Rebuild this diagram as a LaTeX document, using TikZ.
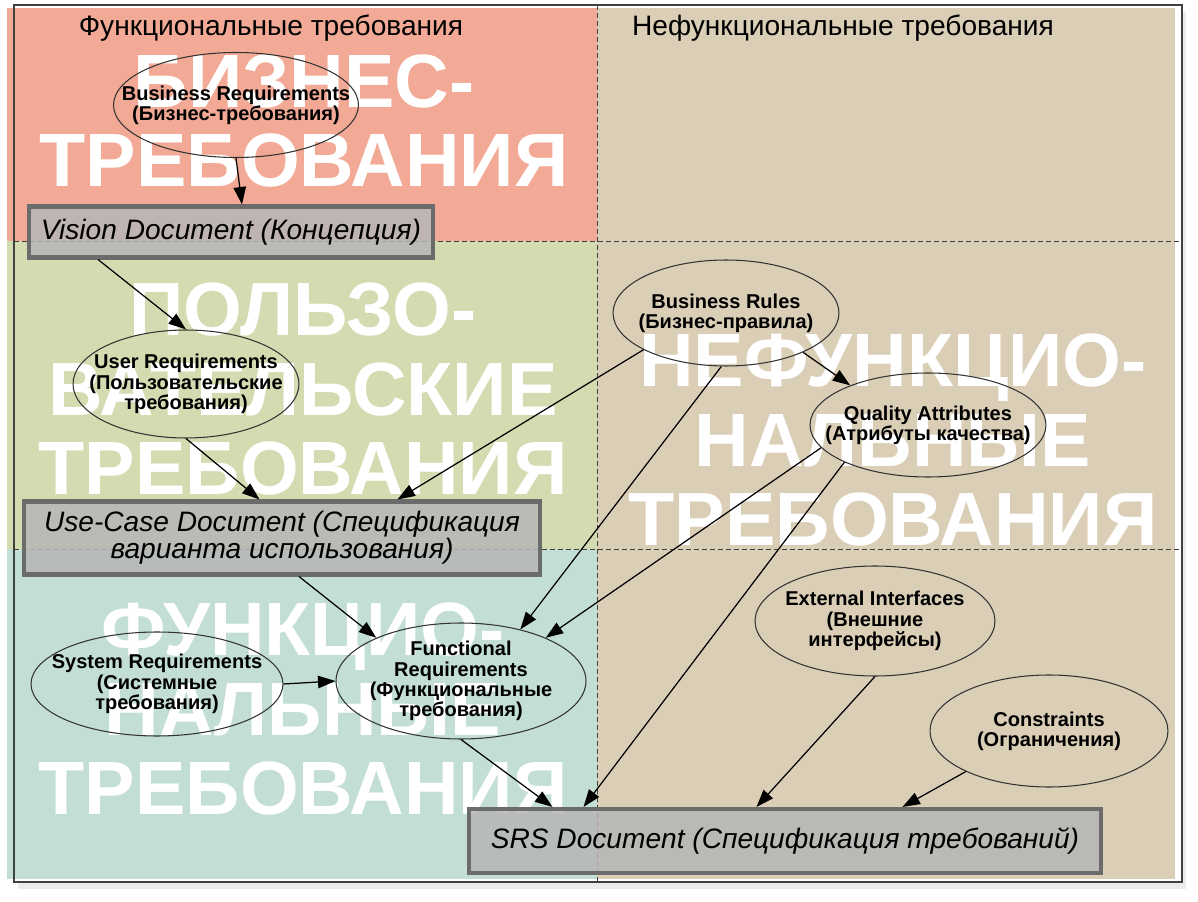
\documentclass[tikz,border=0pt]{standalone}
\usepackage{fontspec}
\setmainfont{Liberation Sans}
\usetikzlibrary{arrows.meta,shapes.geometric,shadows}

\definecolor{bizbg}{HTML}{F2AA96}
\definecolor{userbg}{HTML}{D3DCB1}
\definecolor{funcbg}{HTML}{C3DFD3}
\definecolor{nfbg}{HTML}{DACEB7}
\definecolor{docgray}{HTML}{B6B6B6}
\definecolor{docedge}{HTML}{6B6B6B}

\begin{document}
\begin{tikzpicture}[
    x=0.02cm, y=-0.02cm,
    req/.style={
        draw=black!80,
        ellipse,
        line width=0.6pt,
        inner xsep=-8mm,
        inner ysep=-3mm,
        align=center,
        font=\bfseries\fontsize{11.4}{11.5}\selectfont
    },
    doc/.style={
        draw=docedge,
        fill=docgray,
        fill opacity=0.85,
        text opacity=1,
        line width=2.3pt,
        align=center,
        font=\itshape\fontsize{16}{15.5}\selectfont
    },
    big/.style={
        text=white,
        align=center,
        inner sep=0pt,
        font=\bfseries\fontsize{43}{45}\selectfont
    },
    head/.style={font=\fontsize{16}{19}\selectfont},
    sep/.style={black!75, dash pattern=on 0.1cm off 0.06cm, line width=0.5pt},
    arr/.style={-{Triangle[length=3.5mm, width=2.5mm]}, line width=0.7pt}
]
    \useasboundingbox (0,0) rectangle (1198,902);

    %% Фон и рамка
    \path[fill=white, drop shadow={shadow xshift=2pt, shadow yshift=-4pt, opacity=0.15}] (14,5) rectangle (1182,882);
    \fill[bizbg] (7,8) rectangle (597,241);
    \fill[userbg] (7,241) rectangle (597,549);
    \fill[funcbg] (7,549) rectangle (597,879);
    \fill[nfbg] (597,8) rectangle (1175,879);
    \draw[black!75, line width=1.1pt] (14,5) rectangle (1182,882);
    \draw[sep] (597,5) -- (597,882);
    \draw[sep] (14,241) -- (1182,241);
    \draw[sep] (14,549) -- (1182,549);

    %% Крупные подписи уровней
    \node[big] (bizlabel) at (304,121) {БИЗНЕС-\\ТРЕБОВАНИЯ};
    \node[big] (userlabel) at (303,389) {ПОЛЬЗО-\\ВАТЕЛЬСКИЕ\\ТРЕБОВАНИЯ};
    \node[big] (nflabel) at (893,440) {НЕФУНКЦИО-\\НАЛЬНЫЕ\\ТРЕБОВАНИЯ};
    \node[big] (funclabel) at (303,709) {ФУНКЦИО-\\НАЛЬНЫЕ\\ТРЕБОВАНИЯ};

    %% Заголовки колонок
    \node[head] (fhead) at (271,28) {Функциональные требования};
    \node[head] (nfhead) at (843,28) {Нефункциональные требования};

    %% Функциональные требования
    \node[req, minimum width=4.9cm, minimum height=2.1cm] (bizreq) at (236,105) {Business Requirements\\(Бизнес-требования)};
    \node[doc, minimum width=8.08cm, minimum height=1.02cm] (vision) at (231,232) {Vision Document (Концепция)};
    \node[req, minimum width=4.52cm, minimum height=2.16cm] (userreq) at (186,384) {User Requirements\\(Пользовательские\\требования)};
    \node[doc, minimum width=10.34cm, minimum height=1.46cm] (usecase) at (282,538) {Use-Case Document (Спецификация\\варианта использования)};
    \node[req, minimum width=5.04cm, minimum height=2.08cm] (sysreq) at (157,684) {System Requirements\\(Системные\\требования)};
    \node[req, minimum width=5cm, minimum height=2.32cm] (funcreq) at (461,681) {Functional\\Requirements\\(Функциональные\\требования)};
    \node[doc, minimum width=12.66cm, minimum height=1.28cm] (srs) at (785,841) {SRS Document (Спецификация требований)};

    %% Нефункциональные требования
    \node[req, minimum width=4.52cm, minimum height=2.12cm] (busrules) at (726,313) {Business Rules\\(Бизнес-правила)};
    \node[req, minimum width=4.72cm, minimum height=2.08cm] (quality) at (928,425) {Quality Attributes\\(Атрибуты качества)};
    \node[req, minimum width=4.8cm, minimum height=2.2cm] (extif) at (875,621) {External Interfaces\\(Внешние\\интерфейсы)};
    \node[req, minimum width=4.76cm, minimum height=2.24cm] (constr) at (1049,731) {Constraints\\(Ограничения)};

    %% Стрелки
    \draw[arr] (bizreq.south) -- ([xshift=0.22cm]vision.north);
    \draw[arr] ([xshift=1.42cm]vision.south west) -- (userreq.north);
    \draw[arr] (userreq.south) -- ([xshift=-0.45cm]usecase.north);
    \draw[arr] (busrules.204) -- ([xshift=2.31cm]usecase.north);
    \draw[arr] ([xshift=0.34cm]usecase.south) -- (funcreq.153);
    \draw[arr] (sysreq.east) -- (funcreq.west);
    \draw[arr] (busrules.265) -- (funcreq.41);
    \draw[arr] (quality.192) -- (funcreq.27);
    \draw[arr] (busrules.333) -- (quality.153);
    \draw[arr] (quality.204) -- ([xshift=2.34cm]srs.north west);
    \draw[arr] (funcreq.south) -- ([xshift=1.72cm]srs.north west);
    \draw[arr] (extif.south) -- ([xshift=5.8cm]srs.north west);
    \draw[arr] (constr.206) -- ([xshift=8.72cm]srs.north west);
\end{tikzpicture}
\end{document}
